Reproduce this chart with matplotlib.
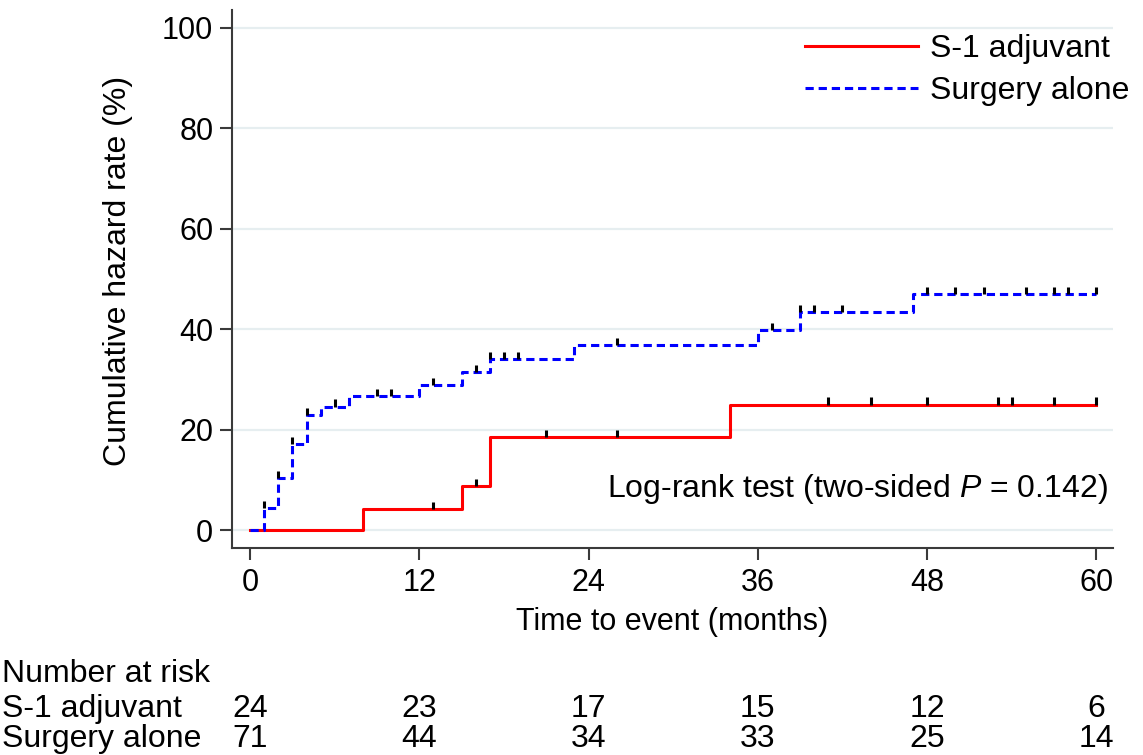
import numpy as np
import matplotlib
matplotlib.use("Agg")
import matplotlib.pyplot as plt
from matplotlib.transforms import blended_transform_factory

plt.rcParams['font.family'] = ['Liberation Sans', 'DejaVu Sans']
plt.rcParams['mathtext.fontset'] = 'custom'
plt.rcParams['mathtext.rm'] = 'Liberation Sans'
plt.rcParams['mathtext.it'] = 'Liberation Sans:italic'

# step curves (time in months, cumulative hazard in %)
s1_times = [0, 8, 15, 17, 34, 60]
s1_levels = [0, 4.2, 8.7, 18.6, 25.0, 25.0]
s1_censor = [13, 16, 21, 26, 41, 44, 48, 53, 54, 57, 60]

sa_times = [0, 1, 2, 3, 4, 5, 7, 12, 15, 17, 23, 36, 39, 47, 60]
sa_levels = [0, 4.4, 10.4, 17.1, 22.9, 24.6, 26.6, 28.9, 31.4, 34.1, 36.9, 39.9, 43.4, 47.0, 47.0]
sa_censor = [1, 2, 3, 4, 6, 9, 10, 13, 16, 17, 18, 19, 26, 37, 39, 40, 42, 48, 50, 52, 55, 57, 58, 60]

risk_times = [0, 12, 24, 36, 48, 60]
risk_s1 = [24, 23, 17, 15, 12, 6]
risk_sa = [71, 44, 34, 33, 25, 14]

FS = 23
TFS = 22
axis_col = '#3a3a3a'

fig = plt.figure(figsize=(11.43, 7.55), dpi=100)
ax = fig.add_axes([0.203, 0.274, 0.771, 0.713])

ax.step(s1_times, s1_levels, where='post', color='#ff0000', lw=2.2,
        label='S-1 adjuvant', zorder=3)
ax.step(sa_times, sa_levels, where='post', color='#0000ff', lw=2.2,
        dashes=(2.7, 1.6), label='Surgery alone', zorder=3)

# censoring ticks
def censor_marks(times, levels, cens):
    idx = np.searchsorted(times, cens, side='right') - 1
    y = np.array(levels)[np.clip(idx, 0, len(levels) - 1)]
    ax.vlines(cens, y, y + 1.4, color='black', lw=2.2, zorder=4)

censor_marks(s1_times, s1_levels, s1_censor)
censor_marks(sa_times, sa_levels, sa_censor)

ax.set_xlim(-1.28, 61.2)
ax.set_ylim(-3.6, 103.6)
ax.set_xticks(risk_times)
ax.set_yticks([0, 20, 40, 60, 80, 100])
ax.grid(axis='y', color='#e6eef0', lw=1.6, zorder=0)
ax.set_axisbelow(True)
for s in ['top', 'right']:
    ax.spines[s].set_visible(False)
for s in ['left', 'bottom']:
    ax.spines[s].set_color(axis_col)
    ax.spines[s].set_linewidth(1.5)
ax.tick_params(axis='both', labelsize=TFS, length=8.5, width=1.5, color=axis_col)
ax.tick_params(axis='x', pad=6)
ax.tick_params(axis='y', pad=5)

fig.text(0.103, 0.641, 'Cumulative hazard rate (%)', rotation=90,
         ha='center', va='center', fontsize=FS)
fig.text(0.588, 0.176, 'Time to event (months)', ha='center', va='center', fontsize=TFS)
fig.text(0.969, 0.352, 'Log-rank test (two-sided $\\it{P}$ = 0.142)',
         ha='right', va='center', fontsize=FS)

ax.legend(loc='upper left', bbox_to_anchor=(0.704, 0.955), bbox_transform=fig.transFigure,
          frameon=False, fontsize=FS, handlelength=3.54, handletextpad=0.38,
          labelspacing=0.39, borderpad=0, borderaxespad=0)

# number at risk table
fig.text(0.002, 0.0967, 'Number at risk', ha='left', va='baseline', fontsize=FS)
fig.text(0.002, 0.0503, 'S-1 adjuvant', ha='left', va='baseline', fontsize=FS)
fig.text(0.002, 0.0106, 'Surgery alone', ha='left', va='baseline', fontsize=FS)
tr = blended_transform_factory(ax.transData, fig.transFigure)
for t, a, b in zip(risk_times, risk_s1, risk_sa):
    ax.text(t, 0.0503, str(a), transform=tr, ha='center', va='baseline', fontsize=FS, clip_on=False)
    ax.text(t, 0.0106, str(b), transform=tr, ha='center', va='baseline', fontsize=FS, clip_on=False)

fig.savefig('out.png', dpi=100)
